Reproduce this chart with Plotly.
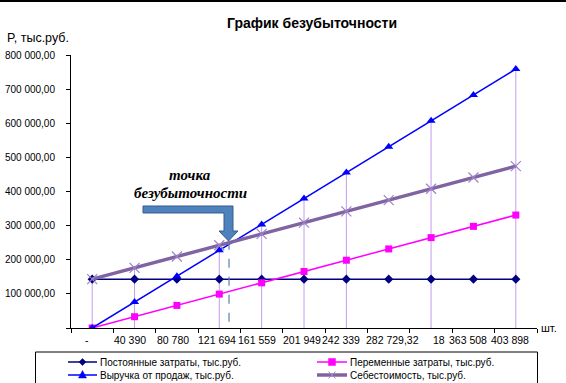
import plotly.graph_objects as go

# ---- data ----
categories = ["-", "40 390", "80 780", "121 694", "161 559", "201 949",
              "242 339", "282 729,32", "18", "363 508", "403 898"]
fixed_costs = [143200, 143200, 143200, 143200, 143200, 143200,
               143200, 143200, 143200, 143200, 143200]
variable_costs = [0, 33100, 66200, 99300, 132400, 165500,
                  198600, 231700, 264800, 297900, 331000]
revenue = [0, 75900, 151800, 227700, 303600, 379500,
           455400, 531300, 607200, 683100, 759000]
total_cost = [143200, 176300, 209400, 242500, 275600, 308700,
              341800, 374900, 408000, 441100, 474200]
series_names = ["Постоянные затраты, тыс.руб.", "Переменные затраты, тыс.руб.",
                "Выручка от продаж, тыс.руб.", "Себестоимость, тыс.руб."]
drop_idx = [0, 1, 3, 4, 5, 6, 8, 10]
breakeven_pos = 3.23          # position on category scale
breakeven_low, breakeven_high = 18000, 248000
y_ticks = [0, 100000, 200000, 300000, 400000, 500000, 600000, 700000, 800000]
y_ticktext = ["", "100 000,00", "200 000,00", "300 000,00", "400 000,00",
              "500 000,00", "600 000,00", "700 000,00", "800 000,00"]

# ---- layout helpers (pixel geometry of the reference) ----
W, H = 566, 383
L, R, T, B = 71, 537, 55, 328
label_shift = [-5, -5, -4, -2, -5, -2, -5, 4, 8, -5, -6]   # px offsets of x labels


def px(x):
    return (x - L) / (R - L)


def py(y):
    return (B - y) / (B - T)


def path(points):
    return "M" + " L".join("{:.5f},{:.5f}".format(px(a), py(b)) for a, b in points) + " Z"


fig = go.Figure()

# drop lines
dx, dy = [], []
for i in drop_idx:
    top = max(fixed_costs[i], variable_costs[i], revenue[i], total_cost[i])
    dx += [categories[i], categories[i], None]
    dy += [0, top, None]
fig.add_trace(go.Scatter(x=dx, y=dy, mode="lines", showlegend=False,
                         line=dict(color="#c49cf0", width=1), hoverinfo="skip"))

styles = [
    dict(line=dict(color="#000080", width=1.5),
         marker=dict(symbol="diamond", size=7, color="#000080")),
    dict(line=dict(color="#ff00ff", width=1.5),
         marker=dict(symbol="square", size=7, color="#ff00ff")),
    dict(line=dict(color="#0000ff", width=1.5),
         marker=dict(symbol="triangle-up", size=8, color="#0000ff")),
    dict(line=dict(color="#8064a2", width=3.5),
         marker=dict(symbol="x-thin", size=10, color="#9d83c8",
                     line=dict(color="#9d83c8", width=1.2))),
]
for name, vals, st in zip(series_names,
                          [fixed_costs, variable_costs, revenue, total_cost], styles):
    fig.add_trace(go.Scatter(x=categories, y=vals, name=name, mode="lines+markers",
                             showlegend=False, **st))

shapes = [
    dict(type="line", xref="x", yref="y", x0=breakeven_pos, x1=breakeven_pos,
         y0=breakeven_low, y1=breakeven_high,
         line=dict(color="#5b7fb0", width=1.2, dash="dash")),
    dict(type="path", xref="paper", yref="paper",
         path=path([(143, 206), (233, 206), (233, 231), (238, 231), (228.5, 241),
                    (219, 231), (224, 231), (224, 213), (143, 213)]),
         fillcolor="#4f81bd", line=dict(color="#385d8a", width=1)),
    dict(type="line", xref="paper", yref="paper", x0=px(0), x1=px(W),
         y0=py(1), y1=py(1), line=dict(color="black", width=2)),
    dict(type="rect", xref="paper", yref="paper", x0=px(35.5), x1=px(537.5),
         y0=py(352), y1=py(400), line=dict(color="black", width=1),
         fillcolor="rgba(0,0,0,0)"),
]

annotations = []

# x-axis category labels (placed by category index on the x scale)
for i, cat in enumerate(categories):
    annotations.append(dict(text=cat, xref="x", yref="paper", x=i, y=py(340),
                            xshift=label_shift[i], xanchor="center", yanchor="middle",
                            showarrow=False,
                            font=dict(family="Arial", size=10.5, color="black")))

# manual legend (2 columns x 2 rows)
legend_slots = [(68, 97, 98, 362), (317, 347, 348, 362),
                (68, 97, 98, 375), (317, 347, 348, 375)]
for k, (x0, x1, tx, yy) in enumerate(legend_slots):
    st = styles[k]
    shapes.append(dict(type="line", xref="paper", yref="paper",
                       x0=px(x0), x1=px(x1), y0=py(yy), y1=py(yy),
                       line=dict(color=st["line"]["color"], width=st["line"]["width"])))
    cx = (x0 + x1) / 2
    col = st["marker"]["color"]
    if k == 0:
        shapes.append(dict(type="path", xref="paper", yref="paper",
                           path=path([(cx, yy - 3.5), (cx + 3.5, yy), (cx, yy + 3.5), (cx - 3.5, yy)]),
                           fillcolor=col, line=dict(color=col, width=0.5)))
    elif k == 1:
        shapes.append(dict(type="path", xref="paper", yref="paper",
                           path=path([(cx - 3.5, yy - 3.5), (cx + 3.5, yy - 3.5),
                                      (cx + 3.5, yy + 3.5), (cx - 3.5, yy + 3.5)]),
                           fillcolor=col, line=dict(color=col, width=0.5)))
    elif k == 2:
        shapes.append(dict(type="path", xref="paper", yref="paper",
                           path=path([(cx, yy - 4.5), (cx + 4, yy + 3), (cx - 4, yy + 3)]),
                           fillcolor=col, line=dict(color=col, width=0.5)))
    else:
        for sgn in (1, -1):
            shapes.append(dict(type="line", xref="paper", yref="paper",
                               x0=px(cx - 3.5), x1=px(cx + 3.5),
                               y0=py(yy - 3.5 * sgn), y1=py(yy + 3.5 * sgn),
                               line=dict(color=col, width=1)))
    annotations.append(dict(text=series_names[k], xref="paper", yref="paper",
                            x=px(tx), y=py(yy), xanchor="left", yanchor="middle",
                            showarrow=False,
                            font=dict(family="Arial", size=10, color="black")))


def note(text, x, y, size, family="Arial", xanchor="center"):
    return dict(text=text, xref="paper", yref="paper", x=px(x), y=py(y),
                xanchor=xanchor, yanchor="middle", showarrow=False,
                font=dict(family=family, size=size, color="black"))


annotations += [
    note("<b>График безубыточности</b>", 312, 23, 14),
    note("P, тыс.руб.", 5, 38, 12.5, xanchor="left"),
    note("шт.", 539, 328, 11, xanchor="left"),
    note("<i><b>точка</b></i>", 190, 175, 15, family="Liberation Serif"),
    note("<i><b>безубыточности</b></i>", 190, 193, 15, family="Liberation Serif"),
]

fig.update_layout(
    width=W, height=H,
    margin=dict(l=L, r=W - R, t=T, b=H - B, pad=0, autoexpand=False),
    paper_bgcolor="white", plot_bgcolor="white",
    font=dict(family="Arial", size=10, color="black"),
    shapes=shapes, annotations=annotations,
    showlegend=False,
    xaxis=dict(type="category", categoryorder="array", categoryarray=categories,
               range=[-0.5, 10.5], tickson="boundaries", ticks="outside",
               ticklen=4, tickcolor="black", showline=True, linecolor="black",
               linewidth=1, showgrid=False, zeroline=False,
               showticklabels=False),
    yaxis=dict(range=[0, 800000], tickvals=y_ticks, ticktext=y_ticktext,
               ticks="outside", ticklen=4, tickcolor="black", showline=True,
               linecolor="black", linewidth=1, showgrid=False, zeroline=False,
               ticklabelstandoff=9,
               tickfont=dict(family="Arial", size=10)),
)

fig.write_html("out.html", config={"displayModeBar": False},
               post_script="document.body.style.margin='0';document.body.style.padding='0';")
